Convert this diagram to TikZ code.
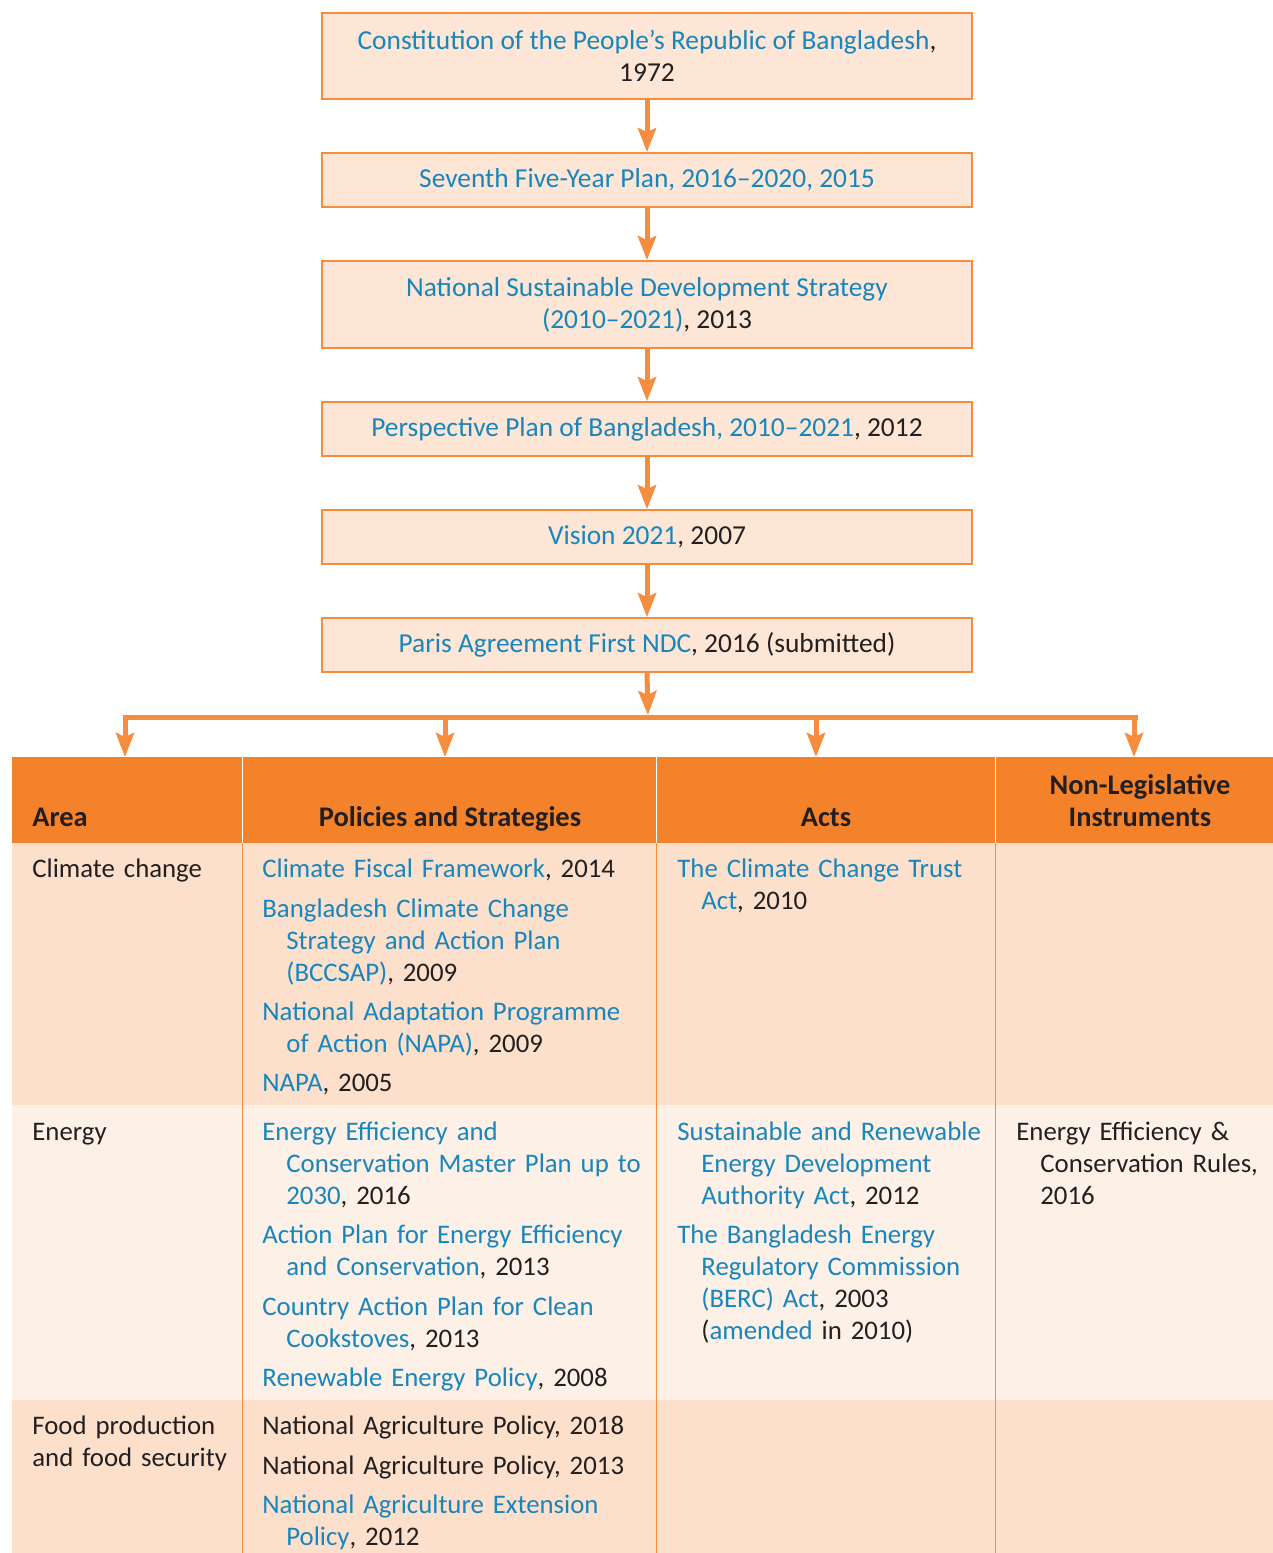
\documentclass[tikz,border=0pt]{standalone}
\usepackage{fontspec}
\setmainfont{Carlito}
\usetikzlibrary{arrows.meta}
\definecolor{lnk}{RGB}{24,134,189}
\definecolor{ink}{RGB}{35,31,32}
\definecolor{boxfill}{RGB}{253,230,213}
\definecolor{boxline}{RGB}{245,140,62}
\definecolor{hdr}{RGB}{244,130,42}
\definecolor{rowA}{RGB}{252,224,203}
\definecolor{rowB}{RGB}{253,240,230}
\newcommand{\bl}[1]{\textcolor{lnk}{#1}}
\newcommand{\ind}{\hspace*{12pt}}
\tikzset{
  x=0.5pt, y=-0.5pt,
  every node/.style={font=\fontsize{13.4}{16}\selectfont, text=ink, inner sep=0pt},
  flowbox/.style={draw=boxline, line width=0.8pt, fill=boxfill, minimum width=325pt, align=center, font=\fontsize{13.7}{16}\selectfont},
  arr/.style={draw=boxline, line width=2.5pt, -{Stealth[length=12pt,width=9pt,inset=2pt]}},
  bus/.style={draw=boxline, line width=2.5pt},
  hd/.style={font=\fontsize{14.2}{16}\selectfont\bfseries},
  cell/.style={anchor=base west, text width=200pt, align=left},
}
\begin{document}
\begin{tikzpicture}
\useasboundingbox (0,0) rectangle (1273,1553);
% flow boxes
\node[flowbox, minimum height=43pt] (b1) at (647,56) {\bl{Constitution of the People’s Republic of Bangladesh},\\1972};
\node[flowbox, minimum height=27pt] (b2) at (647,180) {\bl{Seventh Five-Year Plan, 2016–2020, 2015}};
\node[flowbox, minimum height=43.5pt] (b3) at (647,304.5) {\bl{National Sustainable Development Strategy}\\\bl{(2010–2021)}, 2013};
\node[flowbox, minimum height=27pt] (b4) at (647,429) {\bl{Perspective Plan of Bangladesh, 2010–2021}, 2012};
\node[flowbox, minimum height=27pt] (b5) at (647,537) {\bl{Vision 2021}, 2007};
\node[flowbox, minimum height=27pt] (b6) at (647,645) {\bl{Paris Agreement First NDC}, 2016 (submitted)};
\draw[arr] (b1) -- (b2);
\draw[arr] (b2) -- (b3);
\draw[arr] (b3) -- (b4);
\draw[arr] (b4) -- (b5);
\draw[arr] (b5) -- (b6);
% bus
\coordinate (j0) at (648,717);
\coordinate (jL) at (125,717);
\coordinate (jR) at (1135,717);
\coordinate (j1) at (125,717);
\coordinate (j2) at (445,717);
\coordinate (j3) at (816,717);
\coordinate (j4) at (1134,717);
\draw[arr] (b6.south) -- ([yshift=1pt]j0);
\draw[bus] ([xshift=-1.25pt]jL) -- ([xshift=1.25pt]jR);
% table backgrounds
\fill[hdr] (12,757) rectangle (1273,843);
\fill[rowA] (12,843) rectangle (1273,1105);
\fill[rowB] (12,1105) rectangle (1273,1400);
\fill[rowA] (12,1400) rectangle (1273,1553);
\foreach \xx in {242.5,656.5,995.5}{
  \draw[white, line width=0.6pt] (\xx,757) -- (\xx,843);
  \draw[boxline, line width=0.6pt] (\xx,843) -- (\xx,1553);
}
% header
\node[hd, anchor=base west] (h1) at (32,826) {Area};
\node[hd, anchor=base] (h2) at (450,826) {Policies and Strategies};
\node[hd, anchor=base] (h3) at (826,826) {Acts};
\node[hd, anchor=base, text width=135pt, align=center] (h4) at (1140,794) {Non-Legislative\\Instruments};
\coordinate (t1) at (125,757);
\coordinate (t2) at (445,757);
\coordinate (t3) at (816,757);
\coordinate (t4) at (1134,757);
\draw[arr] (j1) -- (t1);
\draw[arr] (j2) -- (t2);
\draw[arr] (j3) -- (t3);
\draw[arr] (j4) -- (t4);
% column 1
\node[cell] (a1) at (32,877) {Climate change};
\node[cell] (a2) at (32,1140) {Energy};
\node[cell] (a3) at (32,1434) {Food production\\and food security};
% column 2
\node[cell] (p1) at (262,877) {\bl{Climate Fiscal Framework}, 2014};
\node[cell] (p2) at (262,917) {\bl{Bangladesh Climate Change}\\\ind\bl{Strategy and Action Plan}\\\ind\bl{(BCCSAP)}, 2009};
\node[cell] (p3) at (262,1020) {\bl{National Adaptation Programme}\\\ind\bl{of Action (NAPA)}, 2009};
\node[cell] (p4) at (262,1091) {\bl{NAPA}, 2005};
\node[cell] (p5) at (262,1140) {\bl{Energy Efficiency and}\\\ind\bl{Conservation Master Plan up to}\\\ind\bl{2030}, 2016};
\node[cell] (p6) at (262,1243) {\bl{Action Plan for Energy Efficiency}\\\ind\bl{and Conservation}, 2013};
\node[cell] (p7) at (262,1315) {\bl{Country Action Plan for Clean}\\\ind\bl{Cookstoves}, 2013};
\node[cell] (p8) at (262,1386) {\bl{Renewable Energy Policy}, 2008};
\node[cell] (p9) at (262,1434) {National Agriculture Policy, 2018};
\node[cell] (p10) at (262,1474) {National Agriculture Policy, 2013};
\node[cell] (p11) at (262,1513) {\bl{National Agriculture Extension}\\\ind\bl{Policy}, 2012};
% column 3
\node[cell] (c1) at (677,877) {\bl{The Climate Change Trust}\\\ind\bl{Act}, 2010};
\node[cell] (c2) at (677,1140) {\bl{Sustainable and Renewable}\\\ind\bl{Energy Development}\\\ind\bl{Authority Act}, 2012};
\node[cell] (c3) at (677,1243) {\bl{The Bangladesh Energy}\\\ind\bl{Regulatory Commission}\\\ind\bl{(BERC) Act}, 2003\\\ind(\bl{amended} in 2010)};
% column 4
\node[cell] (n1) at (1016,1140) {Energy Efficiency \&\\\ind Conservation Rules,\\\ind 2016};
\end{tikzpicture}
\end{document}
